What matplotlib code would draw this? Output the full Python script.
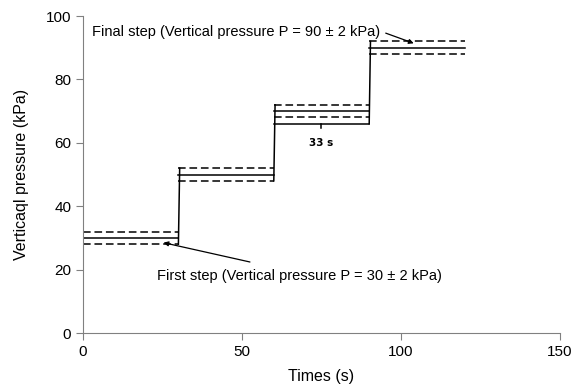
import matplotlib.pyplot as plt

plt.rcParams['font.family'] = ['Liberation Sans', 'DejaVu Sans']

# loading steps: start/end time (s), target pressure (kPa), tolerance (kPa)
step_start = [0, 30, 60, 90]
step_end = [30, 60, 90, 120]
step_p = [30, 50, 70, 90]
tol = 2

# duration bracket under the third step
bracket_y = 66
bracket_label = "33 s"

fig = plt.figure(figsize=(5.74, 3.84), dpi=100)
ax = fig.add_axes([0.1446, 0.1328, 0.831, 0.8255])

lw = 1.1
for i, (x0, x1, p) in enumerate(zip(step_start, step_end, step_p)):
    ax.plot([x0, x1], [p, p], color='black', lw=lw)
    ax.plot([x0, x1], [p + tol, p + tol], color='black', lw=lw, dashes=(5, 2.5))
    ax.plot([x0, x1], [p - tol, p - tol], color='black', lw=lw, dashes=(5, 2.5))
    if i > 0:
        lo = step_p[i - 1] - tol
        if i == 3:
            lo = bracket_y
        ax.plot([x0, x0 + 0.4], [lo, p + tol], color='black', lw=lw)

# bracket marking the holding time of one step
x0, x1 = step_start[2], step_end[2]
ax.plot([x0, x1], [bracket_y, bracket_y], color='black', lw=lw)
xm = (x0 + x1) / 2
ax.plot([xm, xm], [bracket_y, bracket_y - 1.3], color='black', lw=lw)
ax.text(xm, 60, bracket_label, ha='center', va='center', fontsize=7.5,
        fontweight='bold', family='Liberation Sans Narrow')

arrow = dict(arrowstyle='-|>', color='black', lw=0.9, mutation_scale=7,
             shrinkA=0, shrinkB=0)

ax.text(2.8, 95, "Final step (Vertical pressure P = 90 \u00b1 2 kPa)",
        fontsize=10.5, va='center', ha='left')
ax.annotate("", xy=(104.0, 91.4), xytext=(95.2, 94.6), arrowprops=arrow)

ax.text(23.3, 18, "First step (Vertical pressure P = 30 \u00b1 2 kPa)",
        fontsize=10.5, va='center', ha='left')
ax.annotate("", xy=(25.3, 28.5), xytext=(52.5, 22.4), arrowprops=arrow)

ax.set_xlim(0, 150)
ax.set_ylim(0, 100)
ax.set_xticks([0, 50, 100, 150])
ax.set_yticks([0, 20, 40, 60, 80, 100])
for s in ['top', 'right']:
    ax.spines[s].set_visible(False)
for s in ['left', 'bottom']:
    ax.spines[s].set_color('#808080')
ax.tick_params(direction='out', length=5, color='#808080', labelsize=11)
ax.set_xlabel("Times (s)", fontsize=11.5, labelpad=7)
ax.set_ylabel("Verticaql pressure (kPa)", fontsize=11.5, labelpad=12)

fig.savefig("out.png", dpi=100)
